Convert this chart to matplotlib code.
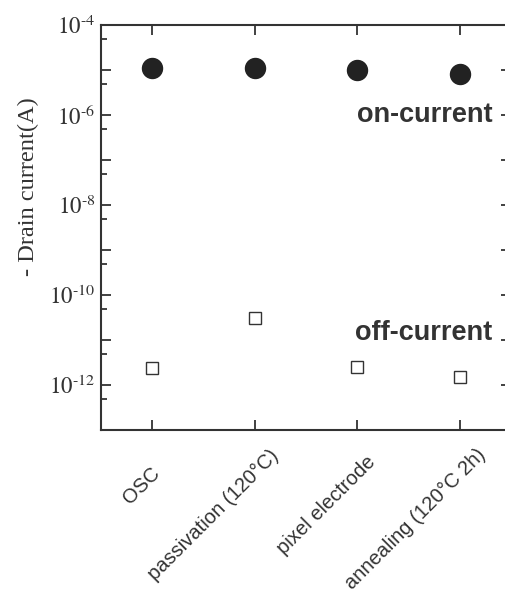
import matplotlib
matplotlib.use("Agg")
import matplotlib.pyplot as plt
import matplotlib.ticker as mticker
from matplotlib.transforms import ScaledTranslation
import numpy as np

# process steps and measured currents (A)
steps = ["OSC", "passivation (120\u00b0C)", "pixel electrode", "annealing (120\u00b0C 2h)"]
on_current = [1.1e-5, 1.1e-5, 1.0e-5, 8.0e-6]
off_current = [2.4e-12, 3.1e-11, 2.5e-12, 1.5e-12]

plt.rcParams["mathtext.fontset"] = "stix"

fig = plt.figure(figsize=(5.05, 5.93), dpi=100)
ax = fig.add_axes([101 / 505, 1 - 430 / 593, 410 / 505, 405 / 593])

x = np.arange(len(steps))
ax.plot(x, on_current, "o", color="#222222", markersize=14.4, linestyle="none")
ax.plot(x, off_current, "s", markerfacecolor="white", markeredgecolor="#333333",
        markeredgewidth=1.0, markersize=8.4, linestyle="none")

ax.set_yscale("log")
ax.set_ylim(1e-13, 1e-4)
ax.set_xlim(-0.5, len(steps) - 0.5)

ax.yaxis.set_major_locator(mticker.LogLocator(base=10, numticks=30))
ax.yaxis.set_minor_locator(mticker.LogLocator(base=10, subs=[5], numticks=30))
ax.yaxis.set_minor_formatter(mticker.NullFormatter())


def fmt(v, pos):
    e = int(round(np.log10(v)))
    return r"$10^{\text{-}%d}$" % -e if e % 2 == 0 else ""


ax.yaxis.set_major_formatter(mticker.FuncFormatter(fmt))

ax.tick_params(axis="y", which="major", direction="in", length=7, width=1.3,
               left=True, right=True, labelsize=16.5, pad=4, color="#333333")
ax.tick_params(axis="y", which="minor", direction="in", length=4, width=1.3,
               left=True, right=True, color="#333333")
ax.tick_params(axis="x", which="major", direction="in", length=7, width=1.3,
               top=True, bottom=True, pad=0, color="#333333")
ax.tick_params(axis="x", which="minor", bottom=False, top=False)

ax.set_xticks(x)
ax.set_xticklabels(steps, rotation=45, rotation_mode="anchor", ha="right", va="top",
                   fontsize=14.5, family="Liberation Sans", color="#333333")

# shift each rotated label like the original layout (end point moves a bit with length)
fig.canvas.draw()
renderer = fig.canvas.get_renderer()
for lab in ax.get_xticklabels():
    w, h, d = renderer.get_text_width_height_descent(lab.get_text(), lab.get_fontproperties(), ismath=False)
    s = -33 + 0.18 * w
    n = 22
    dx = (n + s) / np.sqrt(2)
    dy = (s - n) / np.sqrt(2)
    lab.set_transform(lab.get_transform() + ScaledTranslation(dx / 100, dy / 100, fig.dpi_scale_trans))

for lab in ax.get_yticklabels():
    lab.set_color("#333333")

for sp in ax.spines.values():
    sp.set_linewidth(1.5)
    sp.set_color("#333333")

ax.set_ylabel("- Drain current(A)", family="Liberation Serif", fontsize=17.6,
              color="#333333", va="center")
ax.yaxis.set_label_coords(-0.178, 0.6)

ax.text(3.32, 1.0e-6, "on-current", ha="right", va="center", fontsize=19.5,
        fontweight="bold", family="Liberation Sans", color="#333333")
ax.text(3.32, 1.45e-11, "off-current", ha="right", va="center", fontsize=19.5,
        fontweight="bold", family="Liberation Sans", color="#333333")

fig.savefig("out.png", dpi=100, facecolor="white")
